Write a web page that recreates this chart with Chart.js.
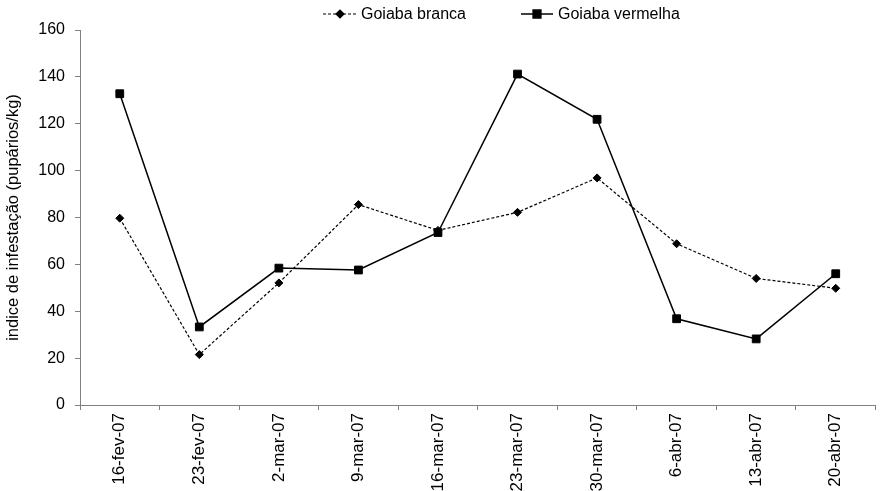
<!DOCTYPE html>
<html>
<head>
<meta charset="utf-8">
<script src="https://cdn.jsdelivr.net/npm/chart.js@4.4.1/dist/chart.umd.min.js"></script>
<style>
  html, body { margin: 0; padding: 0; background: #fff; }
  #wrap { width: 882px; height: 491px; position: relative; }
</style>
</head>
<body>
<div id="wrap"><canvas id="ch"></canvas></div>
<script>
const categories = ['16-fev-07','23-fev-07','2-mar-07','9-mar-07','16-mar-07','23-mar-07','30-mar-07','6-abr-07','13-abr-07','20-abr-07'];
const goiabaBranca = [79.7, 21.5, 52.1, 85.5, 74.5, 82.2, 96.9, 68.8, 54.0, 49.8];
const goiabaVermelha = [132.8, 33.3, 58.4, 57.6, 73.6, 141.2, 121.9, 36.8, 28.2, 56.0];
const yTicks = [0, 20, 40, 60, 80, 100, 120, 140, 160];

const FONT = 'Liberation Sans, Arial, sans-serif';

// legend drawn by hand: line sample + marker + label
const legendPlugin = {
  id: 'lineLegend',
  afterDraw(chart) {
    const ctx = chart.ctx;
    const items = [
      { ds: 0, x1: 323, x2: 357, tx: 361 },
      { ds: 1, x1: 521, x2: 553, tx: 558 }
    ];
    const y = 14;
    items.forEach(it => {
      const ds = chart.data.datasets[it.ds];
      ctx.save();
      ctx.strokeStyle = ds.borderColor;
      ctx.lineWidth = ds.borderWidth;
      ctx.setLineDash(ds.borderDash || []);
      ctx.beginPath(); ctx.moveTo(it.x1, y); ctx.lineTo(it.x2, y); ctx.stroke();
      ctx.setLineDash([]);
      ctx.fillStyle = '#000';
      Chart.helpers.drawPoint(ctx, {
        pointStyle: ds.pointStyle, radius: ds.pointRadius, borderWidth: 1, rotation: 0
      }, (it.x1 + it.x2) / 2, y);
      ctx.font = '16px ' + FONT;
      ctx.textBaseline = 'middle';
      ctx.fillText(ds.label, it.tx, y + 1);
      ctx.restore();
    });
  }
};

new Chart(document.getElementById('ch'), {
  type: 'line',
  data: {
    labels: categories,
    datasets: [
      { label: 'Goiaba branca', data: goiabaBranca, borderColor: '#000', backgroundColor: '#000', borderWidth: 1.2,
        borderDash: [3, 2], pointStyle: 'rectRot', pointRadius: 4, pointBorderWidth: 1, tension: 0 },
      { label: 'Goiaba vermelha', data: goiabaVermelha, borderColor: '#000', backgroundColor: '#000', borderWidth: 1.5,
        pointStyle: 'rect', pointRadius: 5.5, pointBorderWidth: 1, tension: 0 }
    ]
  },
  options: {
    responsive: true, maintainAspectRatio: false, animation: false,
    layout: { padding: { top: 30, right: 2, left: 0, bottom: 0 } },
    plugins: { legend: { display: false }, tooltip: { enabled: false } },
    scales: {
      x: {
        offset: true,
        grid: { offset: true, drawOnChartArea: false, tickLength: 5, color: '#808080' },
        border: { color: '#808080', width: 1 },
        ticks: { color: '#000', font: { family: FONT, size: 17 }, maxRotation: 90, minRotation: 90, padding: 3, autoSkip: false },
        afterFit(s) { s.height = 86; }
      },
      y: {
        min: 0, max: 160,
        afterBuildTicks(s) { s.ticks = yTicks.map(v => ({ value: v })); },
        grid: { drawOnChartArea: false, tickLength: 5, color: '#808080' },
        border: { color: '#808080', width: 1 },
        ticks: { color: '#000', font: { family: FONT, size: 16 }, padding: 10 },
        title: { display: true, text: 'indice de infestação (pupários/kg)', color: '#000', font: { family: FONT, size: 16.5 }, padding: { top: 4, bottom: 0 } },
        afterFit(s) { s.width = 80; }
      }
    }
  },
  plugins: [legendPlugin]
});
</script>
</body>
</html>
